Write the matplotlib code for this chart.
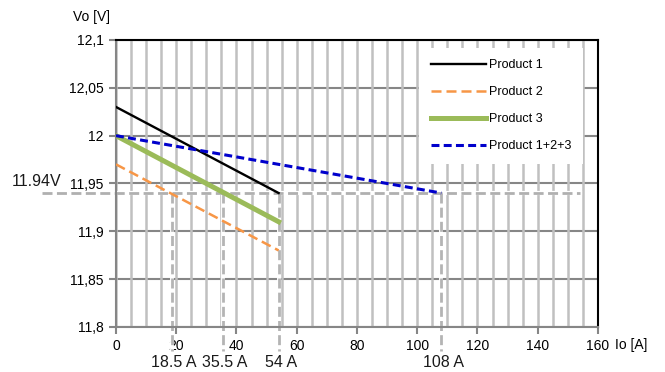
import matplotlib.pyplot as plt
from matplotlib.ticker import MultipleLocator

plt.rcParams['font.family'] = ['Liberation Sans', 'DejaVu Sans']

# courbes Vo = f(Io)
io_p1 = [0, 54]
vo_p1 = [12.03, 11.94]
io_p2 = [0, 54]
vo_p2 = [11.97, 11.88]
io_p3 = [0, 54]
vo_p3 = [12.00, 11.91]
io_tot = [0, 108]
vo_tot = [12.00, 11.94]

# repères
vo_lim = 11.94
io_marks = [18.5, 35.5, 54, 108]
io_mark_labels = ['18.5 A', '35.5 A', '54 A', '108 A']

y_ticks = [11.8, 11.85, 11.9, 11.95, 12.0, 12.05, 12.1]
y_tick_labels = ['11,8', '11,85', '11,9', '11,95', '12', '12,05', '12,1']
x_ticks = [0, 20, 40, 60, 80, 100, 120, 140, 160]

fig = plt.figure(figsize=(6.65, 3.72), dpi=100)
ax = fig.add_axes([0.1744, 0.121, 0.7248, 0.7715])

ax.set_xlim(0, 160)
ax.set_ylim(11.8, 12.1)

# grille
ax.xaxis.set_minor_locator(MultipleLocator(5))
ax.set_xticks(x_ticks)
ax.set_yticks(y_ticks)
ax.set_yticklabels(y_tick_labels)
ax.grid(True, axis='x', which='both', color='#c0c0c0', lw=1.8, zorder=0)
for yv in y_ticks:
    ax.axhline(yv, color='#868686', lw=1.5, zorder=0.5)
ax.set_axisbelow(True)

ax.tick_params(axis='both', which='major', labelsize=10, color='#868686',
               width=1.5, length=5, direction='out', pad=4)
ax.tick_params(axis='x', which='minor', length=0)
for s in ['left', 'bottom']:
    ax.spines[s].set_color('#868686')
    ax.spines[s].set_linewidth(1.5)
for s in ['top', 'right']:
    ax.spines[s].set_color('black')
    ax.spines[s].set_linewidth(1.5)

# lignes de repère
ax.plot([-24.5, 154], [vo_lim, vo_lim], color='white', lw=3,
        clip_on=False, zorder=1.8)
ax.plot([-24.5, 154], [vo_lim, vo_lim], color='#b0b0b0', lw=2,
        dashes=(3.6, 1.6), clip_on=False, zorder=2)
for xm, lab in zip(io_marks, io_mark_labels):
    ax.plot([xm, xm], [vo_lim, 11.775], color='white', lw=2.8,
            clip_on=False, zorder=1.8)
    ax.plot([xm, xm], [vo_lim, 11.775], color='#b4b4b4', lw=2,
            dashes=(3.6, 1.5), clip_on=False, zorder=2)
    ax.annotate(lab, xy=(xm, 11.8), xytext=(1.5, -20.5), textcoords='offset points',
                ha='center', va='top', fontsize=11.5, color='#1a1a1a',
                annotation_clip=False)

ax.plot(io_p1, vo_p1, color='black', lw=1.7, label='Product 1', zorder=4)
ax.plot(io_p2, vo_p2, color='#f79646', lw=1.8, dashes=(4, 2), label='Product 2', zorder=4)
ax.plot(io_p3, vo_p3, color='#9bbb59', lw=3.6, label='Product 3', zorder=4)
ax.plot(io_tot, vo_tot, color='#0000cc', lw=2.2, dashes=(2.6, 1.4), label='Product 1+2+3', zorder=4)

leg = ax.legend(loc='upper right', bbox_to_anchor=(0.969, 0.972), borderaxespad=0,
                fontsize=9, frameon=True, fancybox=False, handlelength=4.4,
                handletextpad=0.3, labelspacing=1.2, borderpad=0.9)
leg.get_frame().set_edgecolor('none')
leg.get_frame().set_facecolor('white')
leg.get_frame().set_alpha(1)

ax.text(-0.012, 1.08, 'Vo [V]', transform=ax.transAxes, ha='right', va='center', fontsize=10)
ax.text(1.035, -0.063, 'Io [A]', transform=ax.transAxes, ha='left', va='center', fontsize=10)
ax.annotate('11.94V', xy=(0, vo_lim), xytext=(-39, 3), textcoords='offset points',
            ha='right', va='bottom', fontsize=11.5, color='#1a1a1a', annotation_clip=False)

plt.savefig('out.png', dpi=100)
